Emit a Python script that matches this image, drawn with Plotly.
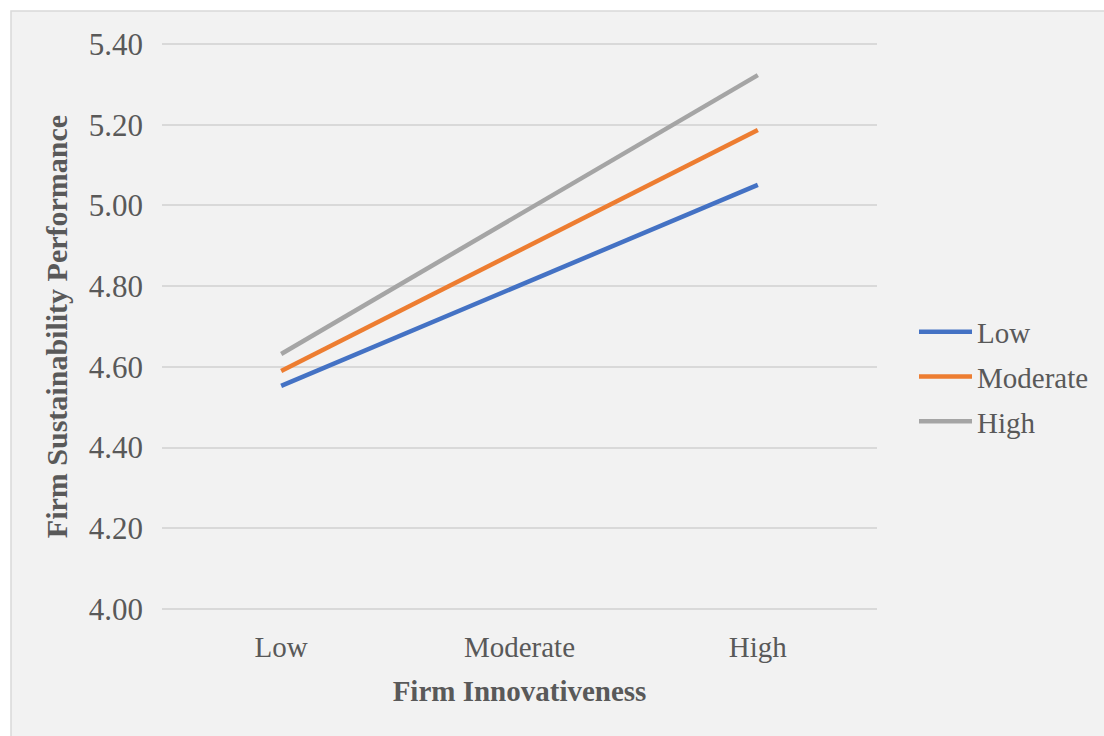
import plotly.graph_objects as go

# Firm innovativeness levels on the x axis
innovativeness = ["Low", "Moderate", "High"]
# Endpoints of each simple-slope line (at Low and High innovativeness)
endpoints = ["Low", "High"]

# Moderator levels and their predicted sustainability performance
series_names = ["Low", "Moderate", "High"]
low_values = [4.553, 5.051]
moderate_values = [4.590, 5.187]
high_values = [4.632, 5.323]
series_values = [low_values, moderate_values, high_values]
series_colors = ["#4472C4", "#ED7D31", "#A5A5A5"]

y_ticks = [4.00, 4.20, 4.40, 4.60, 4.80, 5.00, 5.20, 5.40]

FONT = "Liberation Serif, Times New Roman, serif"
TEXT = "#595959"

fig = go.Figure()
for i, (name, vals, col) in enumerate(zip(series_names, series_values, series_colors)):
    fig.add_trace(go.Scatter(
        x=endpoints, y=vals, name=name, mode="lines",
        line=dict(color=col, width=4.5),
        legendgroup=f"g{i}",
    ))

W, H = 1104, 736
# small padding above/below the 4.00-5.40 span so the edge gridlines are drawn
L, R, T, B = 162, 227, 42, 125
pw, ph = W - L - R, H - T - B

# Chart-area panel with a thin border, offset from the top-left edge
fig.add_shape(
    type="rect", xref="paper", yref="paper", layer="below",
    x0=(11 - L) / pw, x1=(W + 10 - L) / pw,
    y0=-(B + 10) / ph, y1=(H - B - 11) / ph,
    fillcolor="#F2F2F2", line=dict(color="#D9D9D9", width=1.5),
)

fig.update_layout(
    width=W, height=H,
    margin=dict(l=L, r=R, t=T, b=B, pad=0, autoexpand=False),
    paper_bgcolor="white",
    plot_bgcolor="rgba(0,0,0,0)",
    font=dict(family=FONT, size=29, color=TEXT),
    showlegend=True,
    legend=dict(
        x=(914 - L) / pw, xanchor="left",
        y=(H - B - 377) / ph, yanchor="middle",
        bgcolor="rgba(0,0,0,0)",
        font=dict(family=FONT, size=29, color=TEXT),
        tracegroupgap=4,
        itemwidth=53,
    ),
    xaxis=dict(
        type="category",
        categoryorder="array", categoryarray=innovativeness,
        tickvals=innovativeness,
        range=[-0.5, 2.5],
        showgrid=False, zeroline=False, showline=False,
        ticks="", ticklabelstandoff=16,
        tickfont=dict(family=FONT, size=29, color=TEXT),
        title=dict(text="<b>Firm Innovativeness</b>", standoff=18,
                   font=dict(family=FONT, size=29, color=TEXT)),
    ),
    yaxis=dict(
        range=[3.995, 5.405],
        tickvals=y_ticks,
        tickformat=".2f",
        showgrid=True, gridcolor="#D9D9D9", gridwidth=1.5,
        zeroline=False, showline=False,
        ticks="", ticklabelstandoff=18,
        tickfont=dict(family=FONT, size=31, color=TEXT),
        title=dict(text="<b>Firm Sustainability Performance</b>", standoff=12,
                   font=dict(family=FONT, size=30, color=TEXT)),
    ),
)

fig.write_html("out.html")
